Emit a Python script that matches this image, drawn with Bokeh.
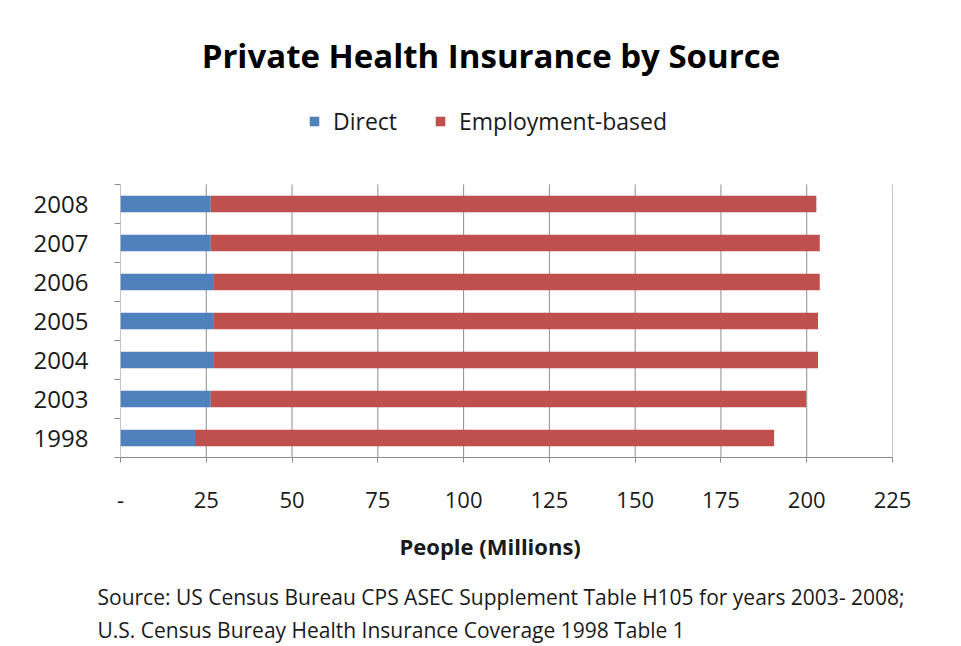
from bokeh.plotting import figure
from bokeh.models import (ColumnDataSource, FixedTicker, Legend, LegendItem,
                          Range1d, Title, Label)
from bokeh.embed import file_html
from bokeh.resources import INLINE

# ---- data ----
years = ["1998", "2003", "2004", "2005", "2006", "2007", "2008"]
direct = [21.7, 26.3, 27.0, 27.0, 27.0, 26.3, 26.3]
employment = [168.8, 173.5, 176.3, 176.3, 176.8, 177.5, 176.5]
series_names = ["Direct", "Employment-based"]
x_ticks = [0, 25, 50, 75, 100, 125, 150, 175, 200, 225]
x_tick_labels = ["-", "25", "50", "75", "100", "125", "150", "175", "200", "225"]

title_text = "Private Health Insurance by Source"
x_label = "People (Millions)"
source_lines = [
    "Source:  US Census Bureau CPS ASEC Supplement Table H105 for years  2003- 2008;",
    "U.S. Census Bureay Health Insurance Coverage 1998 Table 1",
]

FONT = "Open Sans"
BLUE = "#4f81bd"
RED = "#c0504d"
GRID = "#8c8c8c"
TXT = "#1a1a1a"

n = len(years)
pos = list(range(n))
src = ColumnDataSource(dict(y=pos, year=years, direct=direct, employment=employment))

# frame runs from the canvas top to the x axis; the extra room above the
# category band holds the title and the legend
W, H = 953, 646
FRAME_H = 457
BAND = 39.0
y_top = -0.5 + FRAME_H / BAND

p = figure(width=W, height=H, output_backend="svg", toolbar_location=None,
           x_range=Range1d(x_ticks[0], x_ticks[-1]),
           y_range=Range1d(-0.5, y_top),
           min_border_left=120, min_border_right=61,
           min_border_top=0, min_border_bottom=H - FRAME_H,
           background_fill_color="white", border_fill_color="white",
           outline_line_color=None)

# vertical gridlines (incl. the value axis line at 0), only over the category band
p.segment(x0=x_ticks, x1=x_ticks, y0=-0.5, y1=n - 0.5, line_color=GRID, line_width=1)

rs = p.hbar_stack(["direct", "employment"], y="y", height=0.42,
                  color=[BLUE, RED], line_color=None, source=src)

p.xgrid.visible = False
p.ygrid.visible = False

# x axis
xa = p.xaxis[0]
xa.ticker = FixedTicker(ticks=x_ticks)
xa.major_label_overrides = {t: l for t, l in zip(x_ticks, x_tick_labels)}
xa.axis_line_color = GRID
xa.major_tick_line_color = GRID
xa.major_tick_out = 5
xa.major_tick_in = 0
xa.minor_tick_out = 0
xa.minor_tick_in = 0
xa.major_label_standoff = 29
xa.major_label_text_font = FONT
xa.major_label_text_font_size = "22px"
xa.major_label_text_color = TXT

# y axis: labels at centres, ticks at category boundaries
ya = p.yaxis[0]
bounds = [i - 0.5 for i in pos] + [pos[-1] + 0.5]
ya.ticker = FixedTicker(ticks=pos, minor_ticks=bounds)
ya.major_label_overrides = {i: y for i, y in zip(pos, years)}
ya.axis_line_color = None
ya.major_tick_out = 0
ya.major_tick_in = 0
ya.minor_tick_out = 6
ya.minor_tick_in = 0
ya.minor_tick_line_color = GRID
ya.major_label_standoff = 26
ya.major_label_text_font = FONT
ya.major_label_text_font_size = "24px"
ya.major_label_text_color = TXT

# legend
legend = Legend(items=[LegendItem(label=series_names[0], renderers=[rs[0]]),
                       LegendItem(label=series_names[1], renderers=[rs[1]])],
                orientation="horizontal", location=(188, 320),
                padding=0, margin=0, spacing=37,
                glyph_width=12, glyph_height=12, label_standoff=13,
                label_text_font=FONT, label_text_font_size="23px",
                label_text_color=TXT, border_line_color=None,
                background_fill_alpha=0)
p.add_layout(legend, "center")

# chart title
p.add_layout(Label(x=107.96, y=9.81, text=title_text, text_font=FONT,
                   text_font_size="33px", text_font_style="bold", text_color="#000000",
                   text_align="center", text_baseline="middle"))

# axis title and source lines below
p.add_layout(Title(text=x_label, align="left", offset=279, standoff=36,
                   text_font=FONT, text_font_size="22px", text_font_style="bold",
                   text_color=TXT), "below")
src_standoffs = [5, 0]
for line, so in zip(source_lines, src_standoffs):
    p.add_layout(Title(text=line, align="left", offset=-23, standoff=so,
                       text_font=FONT, text_font_size="21px", text_font_style="normal",
                       text_color=TXT), "below")

open("out.html", "w").write(file_html(p, INLINE))
